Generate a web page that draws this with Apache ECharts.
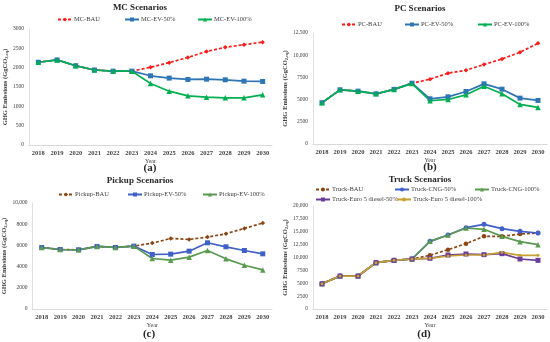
<!DOCTYPE html>
<html><head><meta charset="utf-8">
<script src="https://cdn.jsdelivr.net/npm/echarts@6/dist/echarts.min.js"></script>
<style>html,body{margin:0;padding:0;background:#fff}#c{width:550px;height:342px}</style>
</head><body><div id="c"></div>
<script>
const years = ['2018','2019','2020','2021','2022','2023','2024','2025','2026','2027','2028','2029','2030'];

// (a) MC
const mcBAU   = [2140,2200,2050,1940,1910,1910,2010,2130,2265,2420,2525,2595,2660];
const mcEV50  = [2140,2200,2050,1940,1910,1910,1790,1730,1695,1703,1686,1651,1643];
const mcEV100 = [2140,2200,2050,1940,1910,1910,1591,1392,1271,1236,1219,1219,1297];
// (b) PC
const pcBAU   = [4650,6100,5950,5650,6150,6850,7300,7970,8310,8945,9580,10330,11340];
const pcEV50  = [4650,6100,5950,5650,6150,6850,5090,5314,5913,6774,6175,5165,4903];
const pcEV100 = [4650,6100,5950,5650,6150,6800,4870,5015,5540,6512,5650,4454,4117];
// (c) Pickup
const puBAU   = [5800,5615,5585,5900,5805,5930,6215,6656,6562,6782,7098,7603,8107];
const puEV50  = [5800,5615,5585,5900,5805,5930,5142,5174,5457,6246,5868,5521,5205];
const puEV100 = [5800,5615,5585,5900,5805,5930,4763,4606,4890,5521,4732,4132,3691];
// (d) Truck
const trBAU     = [4900,6400,6400,9000,9450,9710,10420,11520,12690,14110,14110,14560,14760];
const trCNG50   = [4900,6400,6400,9000,9450,9710,13140,14370,15790,16440,15600,15080,14760];
const trCNG100  = [4900,6400,6400,9000,9450,9710,13140,14370,15730,15470,14110,13070,12490];
const trEuro50  = [4900,6400,6400,9000,9450,9710,9840,10485,10680,10550,10744,9710,9450];
const trEuro100 = [4900,6400,6400,9000,9450,9710,9840,10290,10485,10485,11003,10420,10420];

const FONT = 'Liberation Serif';
function fmt(v){ if (v>=10000){ const s=String(v); return s.slice(0,s.length-3)+','+s.slice(-3);} return String(v); }

const grids = [
  {left:29, top:29, width:243, height:116},
  {left:313, top:33, width:234, height:111},
  {left:30, top:203, width:242, height:106},
  {left:313, top:206, width:234, height:103}
];
const yCfg = [
  {max:3000, interval:500, gap:19},
  {max:12500, interval:2500, gap:23},
  {max:10000, interval:2000, gap:21},
  {max:20000, interval:2500, gap:23}
];

const xAxis = grids.map((g,i)=>({
  gridIndex:i, type:'category', data:years, boundaryGap:true,
  axisLine:{lineStyle:{color:'#d9d9d9', width:1}}, axisTick:{show:false},
  axisLabel:{fontFamily:FONT, fontSize:6.5, fontWeight:'bold', color:'#404040', margin:5},
  name:'Year', nameLocation:'middle', nameGap:13,
  nameTextStyle:{fontFamily:FONT, fontSize:6, color:'#404040'}
}));
const yAxis = yCfg.map((c,i)=>({
  gridIndex:i, type:'value', min:0, max:c.max, interval:c.interval,
  axisLine:{show:true, lineStyle:{color:'#e0e0e0'}}, axisTick:{show:false},
  splitLine:{show:false},
  axisLabel:{fontFamily:FONT, fontSize:5.5, color:'#404040', margin:5, formatter:fmt},
  name:'GHG Emissions (GgCO{s|2,eq})', nameLocation:'middle', nameGap:c.gap, nameRotate:90,
  nameTextStyle:{fontFamily:FONT, fontSize:6.5, fontWeight:'bold', color:'#404040',
    rich:{s:{fontFamily:FONT, fontSize:4.5, fontWeight:'bold', color:'#404040', verticalAlign:'bottom', padding:[3,0,0,0]}}}
}));

function ser(name, data, idx, color, symbol, size, dashed){
  return {name, type:'line', data, xAxisIndex:idx, yAxisIndex:idx, color,
    symbol, symbolSize:size, showSymbol:true,
    lineStyle:{color, width:1.7, type: dashed ? [3,2] : 'solid'},
    itemStyle:{color}, emphasis:{disabled:true}, animation:false, z:2};
}

const RED='#ff1a1a', BLUE='#2e75b6', GREEN='#00b050';
const BROWN='#8b4513', BLUE2='#4060c8', GREEN2='#5a9a50', PURPLE='#6a3d9a', GOLD='#c8a030';

const series = [
  ser('MC-BAU', mcBAU, 0, RED, 'diamond', 4.5, true),
  ser('MC-EV-50%', mcEV50, 0, BLUE, 'rect', 5, false),
  ser('MC-EV-100%', mcEV100, 0, GREEN, 'triangle', 5.5, false),
  ser('PC-BAU', pcBAU, 1, RED, 'diamond', 4.5, true),
  ser('PC-EV-50%', pcEV50, 1, BLUE, 'rect', 5, false),
  ser('PC-EV-100%', pcEV100, 1, GREEN, 'triangle', 5.5, false),
  ser('Pickup-BAU', puBAU, 2, BROWN, 'diamond', 4.5, true),
  ser('Pickup-EV-50%', puEV50, 2, BLUE2, 'rect', 5, false),
  ser('Pickup-EV-100%', puEV100, 2, GREEN2, 'triangle', 5.5, false),
  ser('Truck-BAU', trBAU, 3, BROWN, 'circle', 4.5, true),
  ser('Truck-CNG-50%', trCNG50, 3, BLUE2, 'circle', 5, false),
  ser('Truck-CNG-100%', trCNG100, 3, GREEN2, 'triangle', 5.5, false),
  ser('Truck-Euro 5 diesel-50%', trEuro50, 3, PURPLE, 'rect', 5, false),
  ser('Truck-Euro 5 diesel-100%', trEuro100, 3, GOLD, 'circle', 3, false)
];

const legendPos = [
  ['MC-BAU',57,20],['MC-EV-50%',124,20],['MC-EV-100%',197,20],
  ['PC-BAU',341,25],['PC-EV-50%',404,25],['PC-EV-100%',477,25],
  ['Pickup-BAU',58,195],['Pickup-EV-50%',127,195],['Pickup-EV-100%',202,195],
  ['Truck-BAU',315,190],['Truck-CNG-50%',394,190],['Truck-CNG-100%',474,190],
  ['Truck-Euro 5 diesel-50%',315,200],['Truck-Euro 5 diesel-100%',396,200]
];
const legend = legendPos.map(([n,x,y])=>({
  data:[n], left:x, top:y-4, padding:0, itemWidth:14, itemHeight:5, itemGap:2,
  textStyle:{fontFamily:FONT, fontSize:6.5, color:'#404040', padding:[0,0,0,-3]},
  selectedMode:false
}));

const texts = [
  ['MC Scenarios',140,8,9],['PC Scenarios',420,9,9],['Pickup Scenarios',140,181,9],['Truck Scenarios',420,180,9],
  ['(a)',150,168,11],['(b)',430,167,11],['(c)',149,334,11],['(d)',424,334,11]
];
const graphic = texts.map(([t,x,y,fs])=>({
  type:'text', x, y, silent:true,
  style:{text:t, fill:'#262626', font:'bold '+fs+'px "'+FONT+'"', textAlign:'center', textVerticalAlign:'middle', align:'center', verticalAlign:'middle'}
}));

const chart = echarts.init(document.getElementById('c'), null, {renderer:'canvas'});
chart.setOption({backgroundColor:'#fff', animation:false, grid:grids, xAxis, yAxis, series, legend, graphic});
</script></body></html>
